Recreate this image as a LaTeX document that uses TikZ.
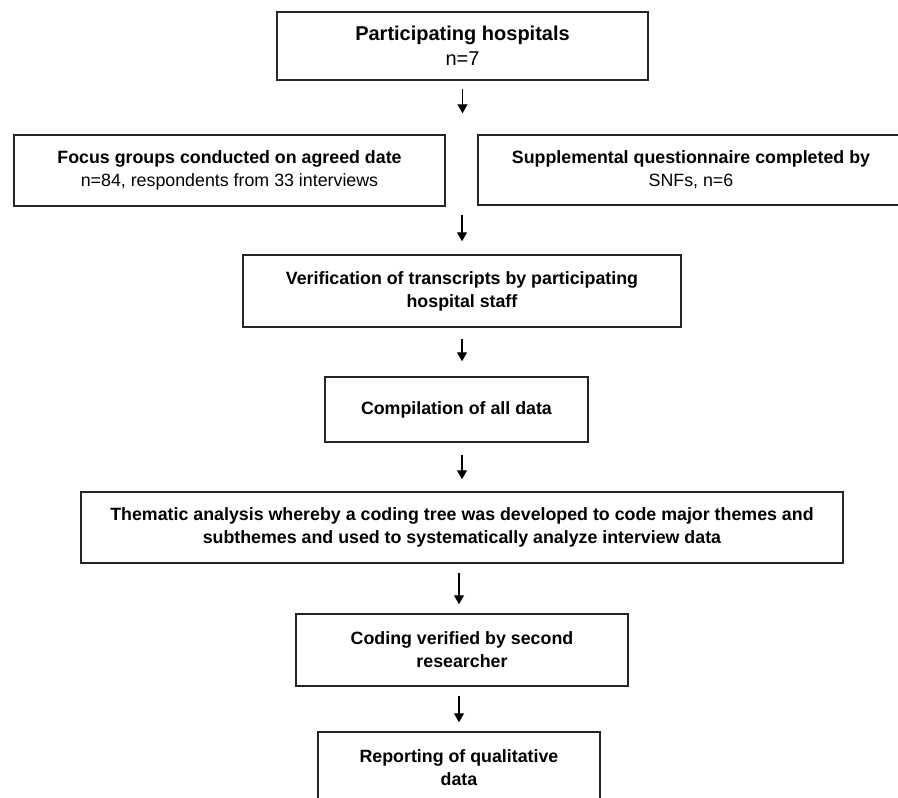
\documentclass[tikz,border=0pt]{standalone}
\usepackage{fontspec}
\setmainfont{Liberation Sans}
\usetikzlibrary{arrows.meta,positioning}
\tikzset{
  riquadro/.style={draw=black!85,line width=1.5pt,rectangle,align=center,inner sep=0pt,
    font=\fontsize{17.8}{23}\selectfont},
  freccia/.style={line width=1.3pt,-{Triangle[width=10pt,length=9pt]}}
}

\begin{document}
\begin{tikzpicture}[x=1pt,y=-1pt]
\useasboundingbox (0,0) rectangle (898,798);
\node[riquadro,minimum width=371pt,minimum height=68pt,font=\fontsize{20}{25}\selectfont]
  (ospedali) at (462.5,46) {\textbf{Participating hospitals}\\n=7};
\node[riquadro,minimum width=431pt,minimum height=71pt] (focus) at (229.5,170.5)
  {\textbf{Focus groups conducted on agreed date}\\n=84, respondents from 33 interviews};
\node[riquadro,minimum width=426pt,minimum height=70pt] (questionario) at (691,170)
  {\textbf{Supplemental questionnaire completed by}\\SNFs, n=6};
\node[riquadro,minimum width=438pt,minimum height=72pt] (verifica) at (462,291)
  {\textbf{Verification of transcripts by participating}\\\textbf{hospital staff}};
\node[riquadro,minimum width=263pt,minimum height=65pt] (raccolta) at (456.5,409.5)
  {\textbf{Compilation of all data}};
\node[riquadro,minimum width=762pt,minimum height=71pt] (analisi) at (462,527.5)
  {\textbf{Thematic analysis whereby a coding tree was developed to code major themes and}\\
   \textbf{subthemes and used to systematically analyze interview data}};
\node[riquadro,minimum width=332pt,minimum height=72pt] (codifica) at (462,650)
  {\textbf{Coding verified by second}\\\textbf{researcher}};
\node[riquadro,minimum width=282pt,minimum height=72pt] (risultati) at (459,768)
  {\textbf{Reporting of qualitative}\\\textbf{data}};

% frecce
\draw[freccia,shorten <=8pt,shorten >=21pt] (ospedali.south) -- (ospedali.south |- focus.north);
\draw[freccia,shorten <=8pt,shorten >=13pt] (verifica.north |- focus.south) -- (verifica.north);
\draw[freccia,shorten <=11pt,shorten >=15pt] (verifica.south) -- (verifica.south |- raccolta.north);
\draw[freccia,shorten <=12pt,shorten >=12pt] (raccolta.south -| analisi.north) -- (analisi.north);
\draw[freccia,shorten <=9pt,shorten >=9pt] (analisi.south -| risultati.north) -- (codifica.north -| risultati.north);
\draw[freccia,shorten <=9pt,shorten >=9pt] (codifica.south -| risultati.north) -- (risultati.north);
\end{tikzpicture}
\end{document}
